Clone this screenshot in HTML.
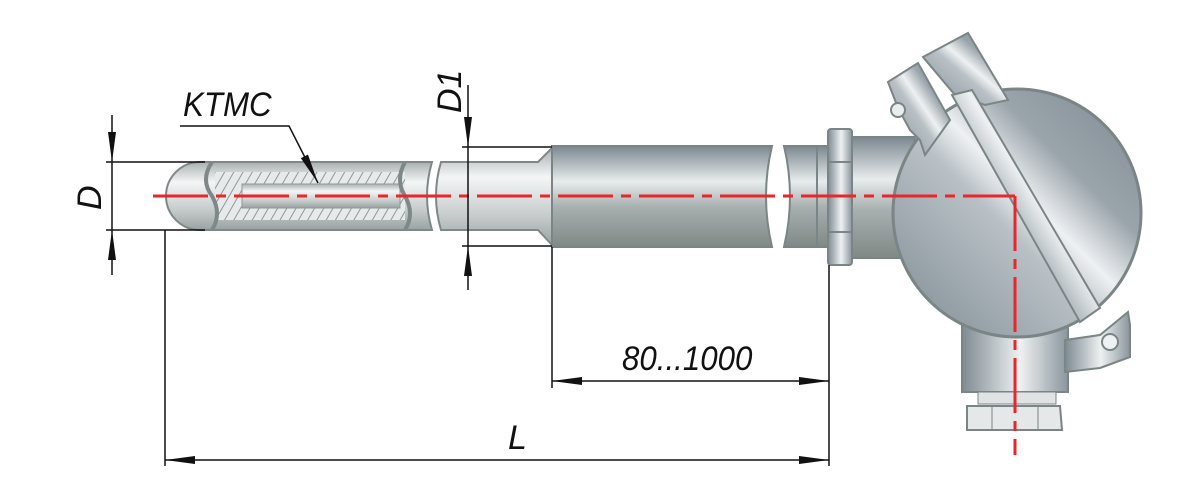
<!DOCTYPE html>
<html><head><meta charset="utf-8"><style>
html,body{margin:0;padding:0;background:#fff;width:1200px;height:500px;overflow:hidden}
text{font-family:"Liberation Sans",sans-serif;font-style:italic;fill:#111}
</style></head><body>
<svg width="1200" height="500" viewBox="0 0 1200 500" xmlns="http://www.w3.org/2000/svg">
<defs>
<linearGradient id="lt" x1="0" y1="0" x2="0" y2="1">
<stop offset="0" stop-color="#a9b0b0"/><stop offset="0.3" stop-color="#f4f6f6"/><stop offset="0.7" stop-color="#c6cccb"/><stop offset="1" stop-color="#9aa2a2"/></linearGradient>
<linearGradient id="dk" x1="0" y1="0" x2="0" y2="1">
<stop offset="0" stop-color="#7b8790"/><stop offset="0.35" stop-color="#e8eced"/><stop offset="0.6" stop-color="#a8b0b0"/><stop offset="1" stop-color="#7f8985"/></linearGradient>
<linearGradient id="hd" x1="0" y1="1" x2="1" y2="0">
<stop offset="0" stop-color="#7e8a92"/><stop offset="0.45" stop-color="#b9c1c6"/><stop offset="0.55" stop-color="#eef1f2"/><stop offset="0.7" stop-color="#9aa4ab"/><stop offset="1" stop-color="#7e8a92"/></linearGradient>
<linearGradient id="vx" x1="0" y1="0" x2="1" y2="0">
<stop offset="0" stop-color="#7e8a92"/><stop offset="0.55" stop-color="#eef1f2"/><stop offset="1" stop-color="#8a959c"/></linearGradient>
<pattern id="hatch" width="8" height="8" patternUnits="userSpaceOnUse" patternTransform="rotate(30)"><rect width="8" height="8" fill="#e6eaea"/><line x1="0" y1="0" x2="0" y2="8" stroke="#8f9898" stroke-width="2"/></pattern>
<marker id="ar2" viewBox="0 0 30 10" refX="30" refY="5" markerWidth="30" markerHeight="10" orient="auto-start-reverse" markerUnits="userSpaceOnUse"><path d="M0,1 L30,5 L0,9z" fill="#111"/></marker>
</defs>

<!-- probe thin part -->
<path d="M200,162 L432,162 Q422,196 432,230 L200,230 A34,34 0 0 1 200,162z" fill="url(#lt)" stroke="#7f8888" stroke-width="2"/>
<path d="M441,162 L538,162 L552,148 L552,245 L538,230 L441,230 Q431,196 441,162z" fill="url(#lt)" stroke="#7f8888" stroke-width="2"/>
<rect x="215" y="172" width="190" height="48" fill="url(#hatch)"/>
<rect x="242" y="184" width="158" height="24" fill="url(#lt)" stroke="#8f9898"/>
<path d="M212,162 Q200,180 212,196 Q222,214 212,230" fill="none" stroke="#7f8888" stroke-width="4"/>
<path d="M405,162 Q395,180 405,196 Q415,214 405,230" fill="none" stroke="#7f8888" stroke-width="4"/>
<!-- big tube -->
<path d="M552,146 L772,146 Q760,196 772,247 L552,247z" fill="url(#dk)" stroke="#7b8585" stroke-width="2"/>
<path d="M784,146 L828,146 L828,247 L784,247 Q796,196 784,146z" fill="url(#dk)" stroke="#7b8585" stroke-width="2"/>
<line x1="817" y1="146" x2="817" y2="247" stroke="#7b8585" stroke-width="2"/>

<!-- head -->
<path d="M850,137 L915,137 L904,258 L850,258z" fill="url(#dk)" stroke="#7b8585" stroke-width="2"/>
<rect x="828" y="129" width="24" height="136" rx="3" fill="url(#vx)" stroke="#7b8585" stroke-width="2"/>
<line x1="828" y1="162" x2="852" y2="162" stroke="#7b8585" stroke-width="2"/>
<line x1="828" y1="232" x2="852" y2="232" stroke="#7b8585" stroke-width="2"/>
<path d="M962,322 L1068,322 L1068,392 L962,392z" fill="url(#vx)" stroke="#7b8585" stroke-width="2"/>
<path d="M1065,340 L1100,335 L1128,312 L1130,325 L1130,357 L1100,368 L1065,372z" fill="url(#vx)" stroke="#7b8585" stroke-width="2"/>
<rect x="978" y="392" width="78" height="12" fill="#dfe3e3" stroke="#7b8585"/>
<path d="M967,406 L1060,406 L1062,430 L967,430z" fill="#e4e8e8" stroke="#7b8585" stroke-width="2"/>
<line x1="992" y1="406" x2="992" y2="430" stroke="#7b8585"/><line x1="1038" y1="406" x2="1038" y2="430" stroke="#7b8585"/>
<circle cx="1017" cy="213" r="124" fill="url(#hd)" stroke="#7b8585" stroke-width="3"/>
<path d="M888,82 L918,63 L950,120 L925,155 L920,140 L910,130 L898,108z" fill="url(#hd)" stroke="#7b8585" stroke-width="2"/>
<circle cx="898" cy="110" r="7" fill="#e9eded" stroke="#7b8585" stroke-width="2"/>
<path d="M923,57 L968,33 L1008,100 L985,105 L955,95z" fill="url(#hd)" stroke="#7b8585" stroke-width="2"/>
<path d="M952,95 L972,90 L1100,308 L1080,322z" fill="url(#hd)" stroke="#7b8585" stroke-width="2"/>
<circle cx="1110" cy="342" r="8" fill="#eef1f1" stroke="#7b8585" stroke-width="2"/>

<!-- center lines -->
<line x1="153" y1="196" x2="1015" y2="196" stroke="#e8262b" stroke-width="3" stroke-dasharray="55,8,10,8"/>
<line x1="1015" y1="196" x2="1015" y2="455" stroke="#e8262b" stroke-width="3" stroke-dasharray="55,8,10,8"/>

<!-- dimensions -->
<g stroke="#111" stroke-width="1.5" fill="none">
<line x1="106" y1="162" x2="205" y2="162"/><line x1="106" y1="230" x2="205" y2="230"/>
<line x1="112" y1="115" x2="112" y2="162" marker-end="url(#ar2)"/>
<line x1="112" y1="275" x2="112" y2="230" marker-end="url(#ar2)"/>
<line x1="112" y1="162" x2="112" y2="230"/>
<line x1="462" y1="147" x2="552" y2="147"/><line x1="462" y1="246" x2="552" y2="246"/>
<line x1="468" y1="85" x2="468" y2="147" marker-end="url(#ar2)"/>
<line x1="468" y1="290" x2="468" y2="246" marker-end="url(#ar2)"/>
<line x1="468" y1="147" x2="468" y2="246"/>
<polyline points="180,126 289,126 318,183" marker-end="url(#ar2)"/>
<line x1="552" y1="247" x2="552" y2="388"/>
<line x1="829" y1="265" x2="829" y2="466"/>
<line x1="165" y1="230" x2="165" y2="466"/>
<line x1="552" y1="381" x2="829" y2="381" marker-start="url(#ar2)" marker-end="url(#ar2)"/>
<line x1="165" y1="460" x2="829" y2="460" marker-start="url(#ar2)" marker-end="url(#ar2)"/>
</g>
<text x="183" y="116" font-size="34" transform="translate(183,116) scale(0.92,1) translate(-183,-116)">KTMC</text>
<text x="622" y="370" font-size="34" transform="translate(622,370) scale(0.92,1) translate(-622,-370)">80...1000</text>
<text x="508" y="449" font-size="34">L</text>
<text transform="translate(101,210) rotate(-90)" font-size="34">D</text>
<text transform="translate(461,113) rotate(-90)" font-size="34">D1</text>
</svg>
</body></html>
